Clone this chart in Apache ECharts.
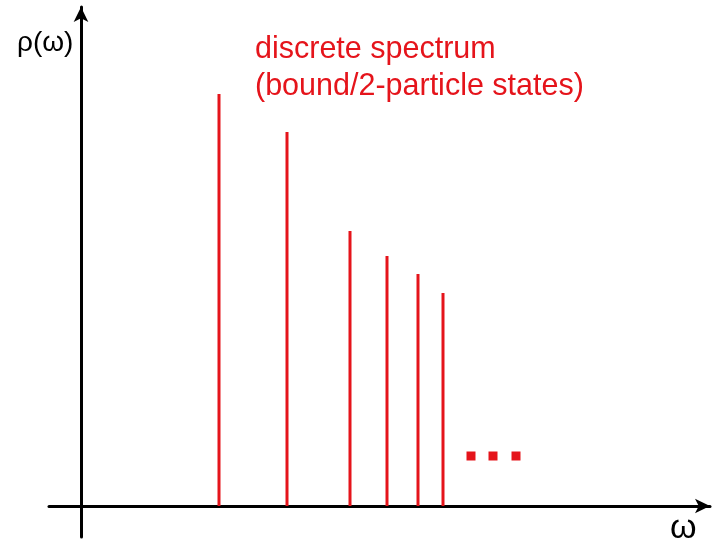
<!DOCTYPE html>
<html>
<head>
<meta charset="utf-8">
<script src="https://cdn.jsdelivr.net/npm/echarts@6/dist/echarts.min.js"></script>
<style>
  html, body { margin: 0; padding: 0; background: #fff; }
  #chart { width: 714px; height: 542px; }
</style>
</head>
<body>
<div id="chart"></div>
<script>
// discrete spectral lines (omega position, rho height)
const omega = [138, 206, 269, 306, 337, 362];
const rho = [412, 374, 275, 250, 232, 213];
// the "..." continuation marks
const dotsOmega = [390, 412, 435];
const dotsRho = [50, 50, 50];

const red = '#e5141b';

let chart = echarts.init(document.getElementById('chart'));
let option = {
  animation: false,
  grid: {
    left: 49,
    right: 4,
    top: 7,
    bottom: 5
  },
  xAxis: {
    type: 'value',
    min: -32,
    max: 629,
    axisLine: {
      onZero: true,
      symbol: ['none', 'arrow'],
      symbolSize: [11, 15],
      lineStyle: { color: '#000', width: 3 }
    },
    axisTick: { show: false },
    axisLabel: { show: false },
    splitLine: { show: false }
  },
  yAxis: {
    type: 'value',
    min: -31,
    max: 499,
    axisLine: {
      onZero: true,
      symbol: ['none', 'arrow'],
      symbolSize: [11, 15],
      lineStyle: { color: '#000', width: 3 }
    },
    axisTick: { show: false },
    axisLabel: { show: false },
    splitLine: { show: false }
  },
  series: [
    {
      type: 'bar',
      barWidth: 3,
      itemStyle: { color: red },
      data: omega.map((w, i) => [w, rho[i]]),
      z: 1
    },
    {
      type: 'scatter',
      symbol: 'rect',
      symbolSize: 9,
      itemStyle: { color: red, opacity: 1 },
      data: dotsOmega.map((w, i) => [w, dotsRho[i]])
    }
  ],
  graphic: [
    {
      type: 'text',
      left: 255,
      top: 31,
      style: {
        text: 'discrete spectrum\n(bound/2-particle states)',
        font: '30.5px "Liberation Sans", Arial, sans-serif',
        lineHeight: 37,
        fill: red
      }
    },
    {
      type: 'text',
      left: 17,
      top: 29,
      style: {
        text: 'ρ(ω)',
        font: '28px "Liberation Sans", Arial, sans-serif',
        fill: '#000'
      }
    },
    {
      type: 'text',
      left: 670,
      top: 512,
      style: {
        text: 'ω',
        font: '34px "Liberation Sans", Arial, sans-serif',
        fill: '#000'
      }
    }
  ]
};
chart.setOption(option);
</script>
</body>
</html>
